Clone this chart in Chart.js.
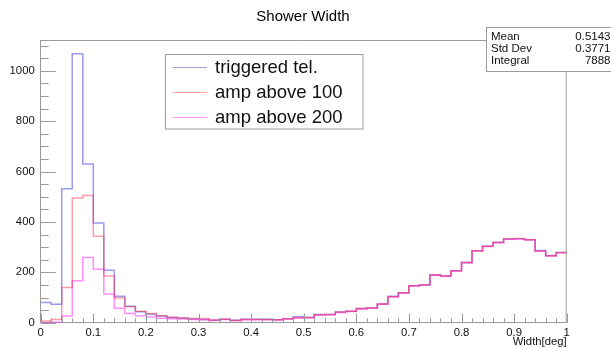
<!DOCTYPE html>
<html><head><meta charset="utf-8">
<script src="https://cdn.jsdelivr.net/npm/chart.js@4/dist/chart.umd.min.js"></script>
<style>html,body{margin:0;padding:0;background:#fff;} canvas{display:block;}</style>
</head><body>
<canvas id="c" width="611" height="348"></canvas>
<script>
// ---- data ----
const binWidth = 0.02;          // bin width in deg
const nBins = 50;               // bins from 0 to 1
const chartTitle = 'Shower Width';
const xAxisTitle = 'Width[deg]';
const seriesLabels = ['triggered tel.', 'amp above 100', 'amp above 200'];
const triggeredTel = [80,73,532,1067,630,396,208,105,65,43,
  34,27,21,19,15,13,10,14,10,14,
  14,14,12,16,24,21,33,33,42,45,
  56,58,74,105,119,147,150,189,185,206,
  239,286,303,319,332,333,329,287,267,279];
const ampAbove100 = [7,13,140,495,505,343,185,98,63,45,
  37,28,22,19,17,17,11,14,9,13,
  13,13,12,16,20,21,32,33,42,45,
  56,58,74,103,119,147,151,190,185,206,
  239,286,303,318,333,334,329,285,266,279];
const ampAbove200 = [1,2,27,166,259,212,114,57,37,28,
  23,18,16,15,13,12,10,13,9,12,
  12,12,11,15,19,20,31,32,40,44,
  54,57,73,102,118,146,150,188,184,205,
  238,285,302,317,331,333,329,284,265,278];
const xTickLabels = ['0','0.1','0.2','0.3','0.4','0.5','0.6','0.7','0.8','0.9','1'];
const yTickLabels = ['0','200','400','600','800','1000'];
const statsLabels = ['Mean','Std Dev','Integral'];
const statsValues = ['0.5143','0.3771','7888'];

const colors = ['rgba(70,70,230,0.55)','rgba(255,40,60,0.45)','rgba(255,60,255,0.58)'];
const drawOrder = [2,0,1]; // lower = drawn on top
const legendColors = ['#a0a0e8','#ffa0a0','#ff99ff'];
const FONT = "'Liberation Sans', Arial, Helvetica, sans-serif";
const FRAME = '#9a9a9a';

function toSteps(vals){
  const pts = vals.map((v,i)=>({x:i*binWidth, y:v}));
  pts.push({x:nBins*binWidth, y:vals[vals.length-1]});
  return pts;
}
const allSeries = [triggeredTel, ampAbove100, ampAbove200];

const rootPlugin = {
  id:'rootDecor',
  afterDatasetsDraw(chart){
    const ctx = chart.ctx, a = chart.chartArea;
    const xs = chart.scales.x, ys = chart.scales.y;
    ctx.save();
    // title
    ctx.fillStyle='#000'; ctx.font='15px '+FONT; ctx.textAlign='center'; ctx.textBaseline='middle';
    ctx.fillText(chartTitle, 303, 17);
    ctx.strokeStyle = FRAME; ctx.lineWidth = 1;
    ctx.beginPath();
    ctx.moveTo(a.left, a.top+0.5); ctx.lineTo(a.right, a.top+0.5);
    ctx.moveTo(a.right-0.5, a.top); ctx.lineTo(a.right-0.5, a.bottom);
    ctx.stroke();
    ctx.beginPath();
    for(let j=0;j<=22;j++){
      const y = Math.round(ys.getPixelForValue(j*50))+0.5;
      const L = (j%4===0)?15:8;
      ctx.moveTo(a.left, y); ctx.lineTo(a.left+L, y);
    }
    for(let k=0;k<=50;k++){
      const x = Math.round(xs.getPixelForValue(k*0.02))+0.5;
      const L = (k%5===0)?9:4.5;
      ctx.moveTo(x, a.bottom); ctx.lineTo(x, a.bottom-L);
    }
    ctx.stroke();
    const lx=165.5, ly=54.5, lw=197.5, lh=74.5;
    ctx.fillStyle='#fff'; ctx.fillRect(lx,ly,lw,lh);
    ctx.strokeStyle=FRAME; ctx.strokeRect(lx,ly,lw,lh);
    ctx.font = '18.5px '+FONT; ctx.textBaseline='middle'; ctx.textAlign='left';
    for(let i=0;i<3;i++){
      const yy = 66.7 + i*25;
      ctx.strokeStyle = legendColors[i]; ctx.lineWidth=1.2;
      ctx.beginPath(); ctx.moveTo(172.5, Math.round(yy)+0.5); ctx.lineTo(207, Math.round(yy)+0.5); ctx.stroke();
      ctx.fillStyle='#111'; ctx.fillText(seriesLabels[i], 215, yy+1);
    }
    ctx.lineWidth=1; ctx.strokeStyle=FRAME;
    ctx.fillStyle='#fff'; ctx.fillRect(486.5,27.5,140,44);
    ctx.strokeRect(486.5,27.5,140,44);
    ctx.font='11.5px '+FONT; ctx.fillStyle='#111';
    for(let i=0;i<3;i++){
      const yy = 36.7 + i*12.3;
      ctx.textAlign='left'; ctx.fillText(statsLabels[i], 491, yy);
      ctx.textAlign='right'; ctx.fillText(statsValues[i], 610.5, yy);
    }
    ctx.font='11.3px '+FONT; ctx.textAlign='right'; ctx.textBaseline='alphabetic';
    ctx.fillText(xAxisTitle, a.right, 345);
    ctx.restore();
  }
};

new Chart(document.getElementById('c'), {
  type:'line',
  data:{
    datasets: allSeries.map((s,i)=>({
      label: seriesLabels[i],
      data: toSteps(s),
      stepped:'before',
      borderColor: colors[i],
      borderWidth: 1.5,
      pointRadius: 0,
      fill:false,
      order: drawOrder[i]
    }))
  },
  options:{
    responsive:false,
    animation:false,
    devicePixelRatio:1,
    layout:{padding:{left:0,right:44.3,top:40,bottom:0}},
    plugins:{
      legend:{display:false},
      tooltip:{enabled:false},
      title:{display:false}
    },
    scales:{
      x:{type:'linear', min:0, max:1,
        grid:{display:false, drawTicks:false},
        border:{display:true, color:FRAME, width:1},
        ticks:{stepSize:0.1, autoSkip:false, maxRotation:0, padding:3, color:'#111',
          font:{family:FONT, size:11.3},
          callback:(v,i)=>xTickLabels[i]},
        afterFit:(s)=>{s.height=25.3;}
      },
      y:{type:'linear', min:0, max:1122,
        grid:{display:false, drawTicks:false},
        border:{display:true, color:FRAME, width:1},
        ticks:{stepSize:200, includeBounds:false, padding:6, color:'#111',
          font:{family:FONT, size:11.3},
          callback:(v,i)=>yTickLabels[i]},
        afterFit:(s)=>{s.width=40.7;}
      }
    }
  },
  plugins:[rootPlugin]
});
</script>
</body></html>
